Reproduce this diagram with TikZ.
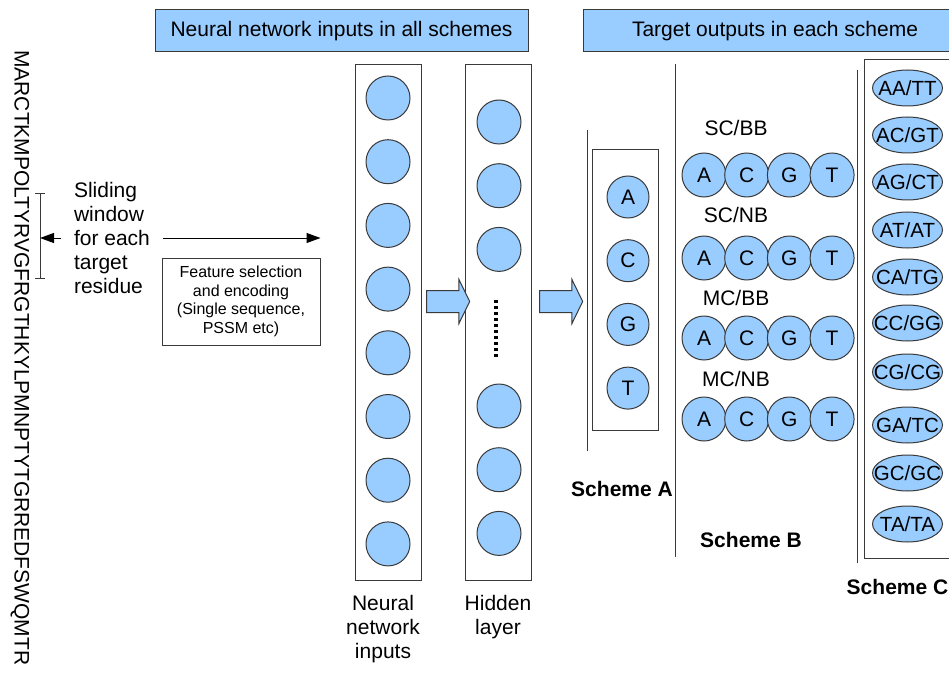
\documentclass[tikz,border=0pt]{standalone}
\usepackage{fontspec}
\setmainfont{Liberation Sans}
\usepackage{tikz}
\usetikzlibrary{positioning,shapes.geometric,shapes.arrows,arrows.meta}
\definecolor{cellblue}{HTML}{99CCFF}
\definecolor{rim}{HTML}{3A3A3A}
\tikzset{node distance=63.7pt,auto,
  every node/.style={font=\fontsize{21}{24}\selectfont},
  unit/.style={circle,draw=rim,line width=1pt,fill=cellblue,minimum size=44pt,inner sep=0pt},
  pair/.style={ellipse,draw=rim,line width=1pt,fill=cellblue,minimum width=70pt,minimum height=36pt,inner sep=0pt,
    font=\fontsize{20.5}{24}\selectfont},
  banner/.style={draw=rim,line width=1pt,fill=cellblue,minimum height=42pt,inner sep=0pt},
  column/.style={draw=rim,line width=1pt,minimum width=66pt,inner sep=0pt},
  flow/.style={single arrow,draw=rim,line width=1pt,fill=cellblue,minimum height=43pt,inner xsep=0pt,inner ysep=10.5pt,
    single arrow head extend=11pt,single arrow tip angle=128},
  divider/.style={draw=rim,line width=1pt},
  pointer/.style={draw=black,line width=1pt,-{Triangle[length=14pt,width=10pt]}},
  vdots/.style={line width=3.2pt,dash pattern=on 3.2pt off 2.8pt},
  schemename/.style={font=\fontsize{21}{24}\selectfont\bfseries,inner sep=0pt}}
\newcommand{\dimer}[1]{\makebox[0pt]{#1}}

\begin{document}
\begin{tikzpicture}[x=1pt,y=-1pt]
  \useasboundingbox (0,0) rectangle (949,676);

  % headers
  \node[banner,minimum width=373pt] (inhead) at (341.5,31) {Neural network inputs in all schemes};
  \node[banner,minimum width=384pt] (outhead) at (775,31) {Target outputs in each scheme};

  % the protein sequence and its window
  \node[rotate=-90,anchor=west,inner sep=0pt] (seq) at (20,50) {MARCTKMPOLTYRVGFRGTHKYLPMNPTYTGRREDFSWQMTR};
  \coordinate (wtop) at (40,194);
  \coordinate (wbot) at (40,278);
  \draw[divider] (wtop) -- (wbot);
  \draw[divider] ([xshift=-5pt]wtop) -- ([xshift=5pt]wtop);
  \draw[divider] ([xshift=-5pt]wbot) -- ([xshift=5pt]wbot);

  \node[align=left,inner xsep=13pt,inner ysep=0pt] (slide) at (112,238) {Sliding\\window\\for each\\target\\residue};
  \node[draw=rim,line width=1pt,align=center,minimum width=158pt,minimum height=87pt,inner sep=0pt,
        font=\fontsize{16}{18.5}\selectfont] (feat) at (241,301.5) {Feature selection\\and encoding\\(Single sequence,\\PSSM etc)};

  \draw[pointer] (slide.east) -- (slide.east -| feat.east);
  \draw[pointer] (slide.west) -- (slide.west -| wtop);

  % input layer
  \node[column,minimum height=515pt] (inbox) at (388,322.5) {};
  \node[unit] (in1) at (388,98) {};
  \node[unit] (in2) [below of=in1] {};
  \node[unit] (in3) [below of=in2] {};
  \node[unit] (in4) [below of=in3] {};
  \node[unit] (in5) [below of=in4] {};
  \node[unit] (in6) [below of=in5] {};
  \node[unit] (in7) [below of=in6] {};
  \node[unit] (in8) [below of=in7] {};

  % hidden layer
  \node[column,minimum height=515pt] (hidbox) at (498,322.5) {};
  \node[unit] (hid1) at (499,122) {};
  \node[unit] (hid2) [below of=hid1] {};
  \node[unit] (hid3) [below of=hid2] {};
  \node[unit] (hid4) at (499,406) {};
  \node[unit] (hid5) [below of=hid4] {};
  \node[unit] (hid6) [below of=hid5] {};
  \draw[vdots] (496,300) -- (496,358);

  \node[flow] (step1) at (445.5,301.5) {};
  \node[flow] (step2) at (558.5,301.5) {};

  \node[align=center] (inlabel) at (383,629) {Neural\\network\\inputs};
  \node[align=center] (hidlabel) at (498,617) {Hidden\\layer};

  % scheme A
  \draw[divider] (587,130) -- (587,451);
  \node[column,minimum height=280pt] (abox) at (625,290) {};
  \node[unit,minimum size=42pt] (aA) at (628,197) {A};
  \node[unit,minimum size=42pt] (aC) [below of=aA] {C};
  \node[unit,minimum size=42pt] (aG) [below of=aC] {G};
  \node[unit,minimum size=42pt] (aT) [below of=aG] {T};
  \node[schemename] (nameA) at (622,489) {Scheme A};

  % scheme B
  \draw[divider] (675,64) -- (675,557);
  \draw[divider] (857,70) -- (857,563);
  \begin{scope}[node distance=42.7pt]
    \node (scbb) at (736,128) {SC/BB};
    \node[unit] (b1A) at (704,175) {A};
    \node[unit] (b1C) [right of=b1A] {C};
    \node[unit] (b1G) [right of=b1C] {G};
    \node[unit] (b1T) [right of=b1G] {T};
    \node (scnb) at (736,215) {SC/NB};
    \node[unit] (b2A) at (704,258) {A};
    \node[unit] (b2C) [right of=b2A] {C};
    \node[unit] (b2G) [right of=b2C] {G};
    \node[unit] (b2T) [right of=b2G] {T};
    \node (mcbb) at (736,298) {MC/BB};
    \node[unit] (b3A) at (704,338) {A};
    \node[unit] (b3C) [right of=b3A] {C};
    \node[unit] (b3G) [right of=b3C] {G};
    \node[unit] (b3T) [right of=b3G] {T};
    \node (mcnb) at (736,379) {MC/NB};
    \node[unit] (b4A) at (704,419) {A};
    \node[unit] (b4C) [right of=b4A] {C};
    \node[unit] (b4G) [right of=b4C] {G};
    \node[unit] (b4T) [right of=b4G] {T};
  \end{scope}
  \node[schemename] (nameB) at (751,540) {Scheme B};

  % scheme C
  \draw[divider] (864,60) rectangle (975,558);
  \node[pair] (cAATT) at (907.5,88) {\dimer{AA/TT}};
  \node[pair] (cACGT) at (907.5,135) {\dimer{AC/GT}};
  \node[pair] (cAGCT) at (907.5,182) {\dimer{AG/CT}};
  \node[pair] (cATAT) at (907.5,230) {\dimer{AT/AT}};
  \node[pair] (cCATG) at (907.5,277) {\dimer{CA/TG}};
  \node[pair] (cCCGG) at (907.5,323) {\dimer{CC/GG}};
  \node[pair] (cCGCG) at (907.5,372) {\dimer{CG/CG}};
  \node[pair] (cGATC) at (907.5,425) {\dimer{GA/TC}};
  \node[pair] (cGCGC) at (907.5,473) {\dimer{GC/GC}};
  \node[pair] (cTATA) at (907.5,524) {\dimer{TA/TA}};
  \node[schemename] (nameC) at (897.5,587) {Scheme C};
\end{tikzpicture}
\end{document}
